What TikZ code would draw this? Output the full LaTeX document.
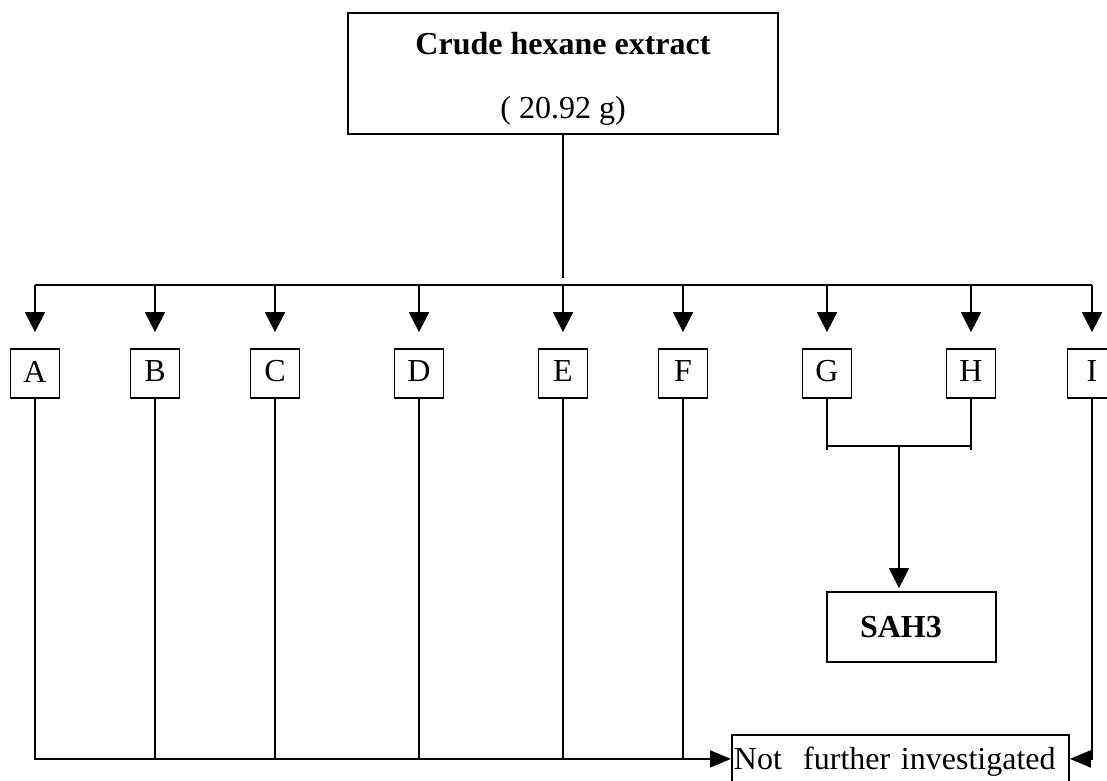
\documentclass[tikz,border=0pt]{standalone}
\usepackage{fontspec}
\setmainfont{Liberation Serif}
\usetikzlibrary{arrows.meta,calc}
% move text vertically without changing its reported size
\newcommand{\nudge}[2]{\raisebox{#1}[\height][\depth]{#2}}
\begin{document}
\begin{tikzpicture}[x=1pt,y=-1pt,
  line width=1.8pt,
  every node/.style={font=\fontsize{32}{38}\selectfont},
  box/.style={draw, line width=1.8pt, minimum width=49pt, minimum height=49pt, inner sep=0pt},
  tip/.style={-{Triangle[length=20pt,width=20pt]}},
  sidetip/.style={-{Triangle[length=21pt,width=17pt]}},
]
\useasboundingbox (0,0) rectangle (1107,780);

% starting material
\node[draw, minimum width=430pt, minimum height=121pt, align=center, inner sep=0pt]
  (crude) at (563,73.5) {\nudge{-5pt}{\textbf{Crude hexane extract}}\\[26pt]\nudge{-5pt}{( 20.92 g)}};

% fractions
\foreach \n/\x in {A/35,B/155,C/275,D/419,E/563,F/683,G/827,H/971,I/1092}
  \node[box] (\n) at (\x,373.5) {\nudge{2pt}{\n}};

% distribution bus
\coordinate (busy) at (0,285);
\coordinate (split) at ($(crude.south |- busy)+(0,-7)$);
\draw (crude.south) -- (split);
\draw (A.north |- busy) -- (I.north |- busy);
\foreach \n in {A,B,C,D,E,F,G,H,I}
  \draw[tip, shorten >=16pt] (\n.north |- busy) -- (\n.north);

% pooled fractions G + H
\node[draw, minimum width=169pt, minimum height=70pt, inner sep=0pt]
  (sah) at (911.5,627) {\makebox[169pt][l]{\hspace{33pt}\textbf{SAH3}}};
\coordinate (gh) at (899,446);
\draw (G.south) -- ($(G.south |- gh)+(0,4)$);
\draw (H.south) -- ($(H.south |- gh)+(0,4)$);
\draw (G.south |- gh) -- (H.south |- gh);
\draw[tip, shorten >=3pt] (gh) -- (gh |- sah.north);

% discarded fractions
\node[draw, anchor=north west, minimum width=337pt, minimum height=48pt,
  inner xsep=2pt, inner ysep=0pt, text width=333pt, align=left]
  (nfi) at (731,734) {\nudge{-3pt}{Not\ \ further investigated}};
\draw[sidetip] (A.south) |- (nfi.west);
\foreach \n in {B,C,D,E,F}
  \draw (\n.south) -- (\n.south |- nfi.west);
\draw[sidetip] (I.south) |- (nfi.east);
\end{tikzpicture}
\end{document}
